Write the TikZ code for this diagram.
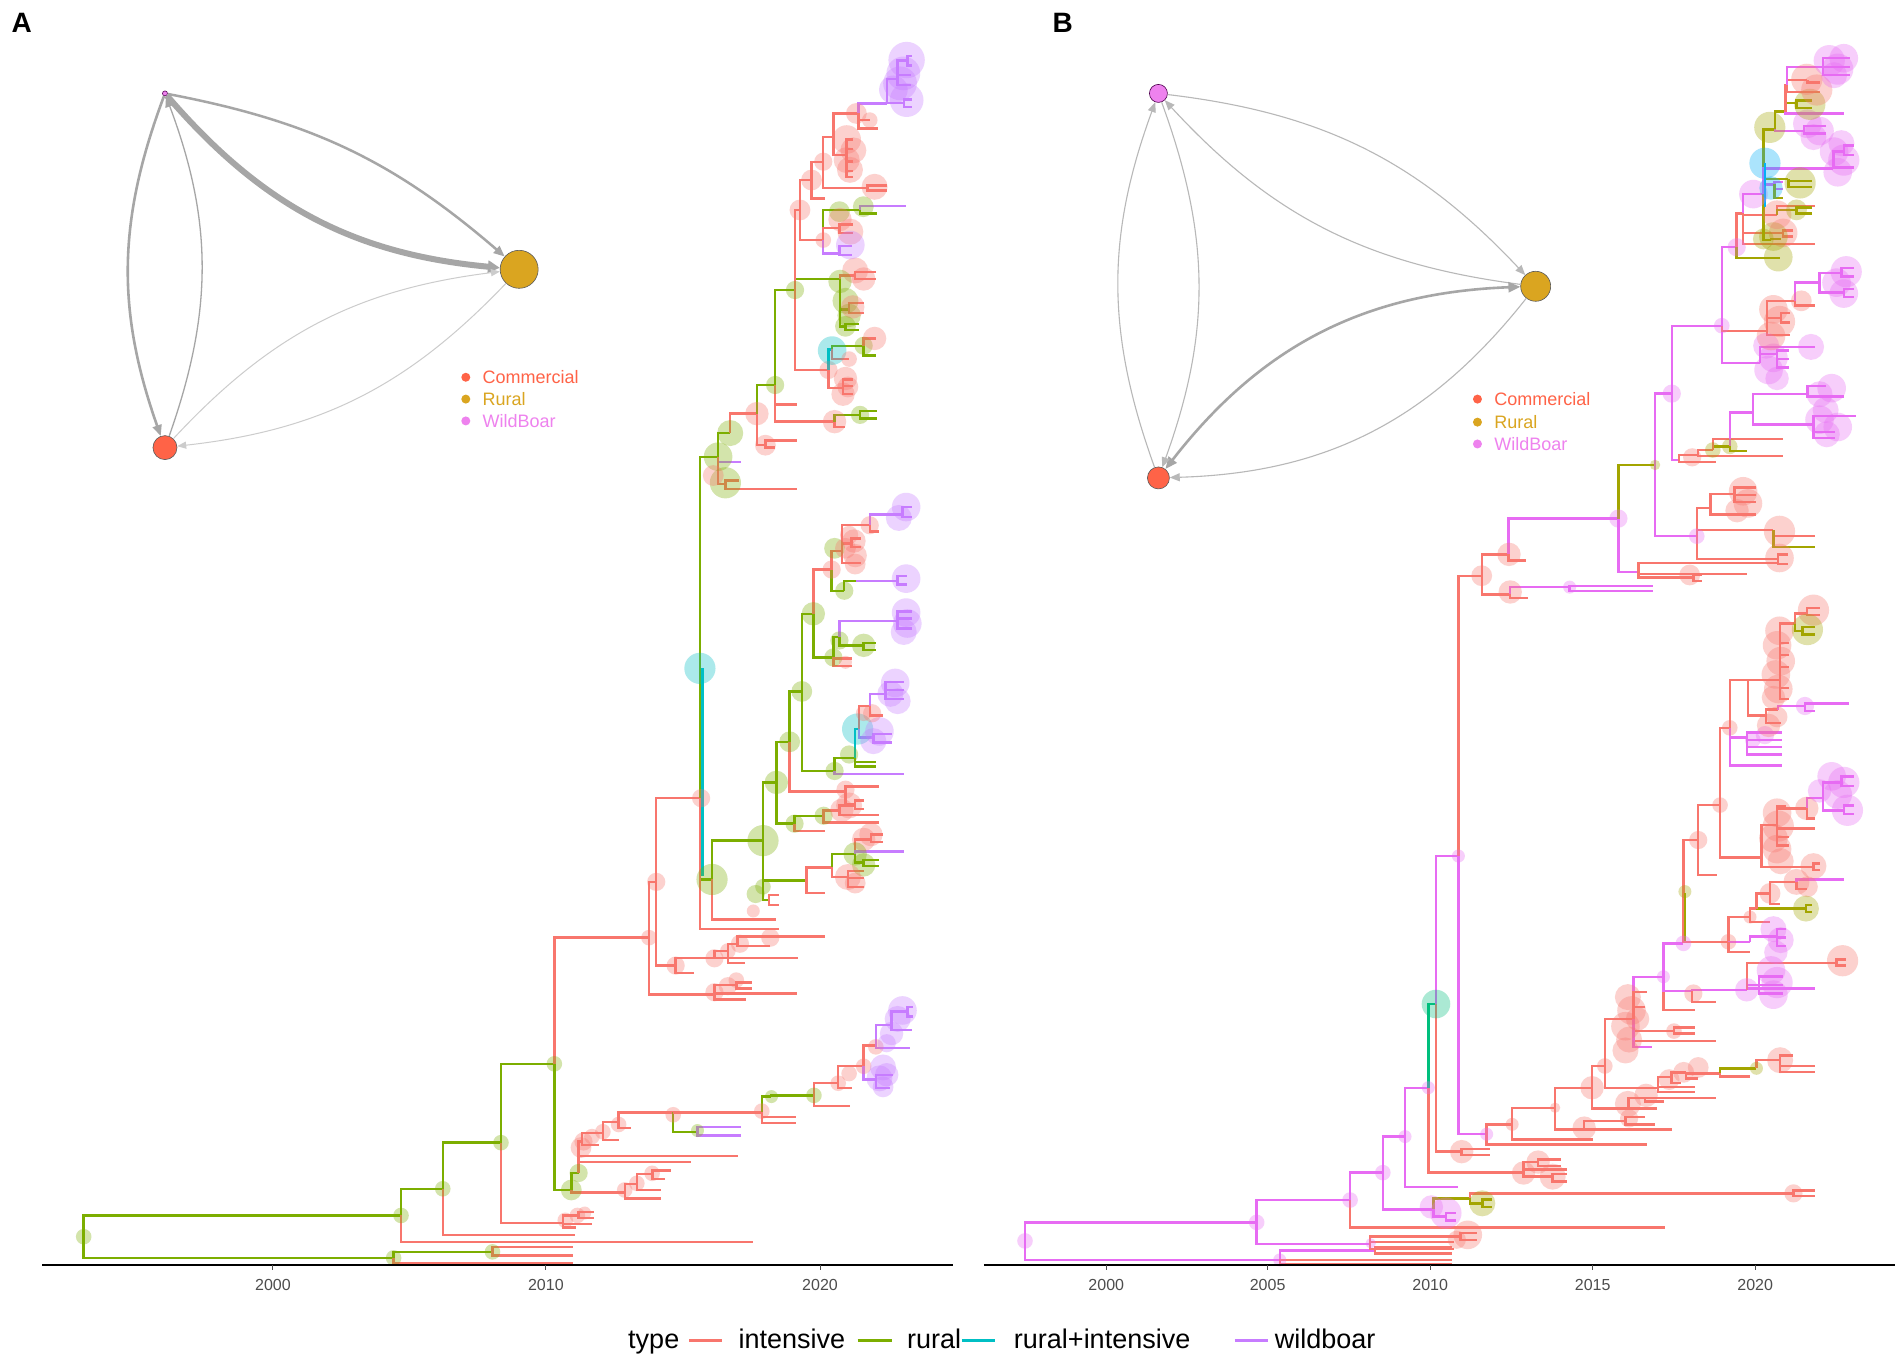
\documentclass[tikz,border=0pt]{standalone}
\usepackage{fontspec}
\setmainfont{Liberation Sans}
\usetikzlibrary{arrows.meta}
\definecolor{cI}{HTML}{F8766D}
\definecolor{cR}{HTML}{7CAE00}
\definecolor{cT}{HTML}{00BFC4}
\definecolor{cW}{HTML}{C77CFF}
\definecolor{Rb}{HTML}{A3A500}
\definecolor{Tb}{HTML}{00BF7D}
\definecolor{Cb}{HTML}{00B0F6}
\definecolor{Wb}{HTML}{E76BF3}
\definecolor{comc}{HTML}{FF6347}
\definecolor{rurc}{HTML}{DAA520}
\definecolor{wbc}{HTML}{EE82EE}
\definecolor{edgeg}{HTML}{A6A6A6}
\definecolor{edgel}{HTML}{CCCCCC}
\definecolor{edgem}{HTML}{B8B8B8}
\definecolor{axg}{HTML}{4D4D4D}
\begin{document}
\begin{tikzpicture}[x=1.213pt,y=-1.213pt,
  tl/.style={line width=2.4pt},
  netnode/.style={circle, draw=black!65, line width=0.6pt, inner sep=0pt},
  netE/.style={draw=edgeg, -{Triangle[length=11pt,width=9pt]}},
  netL/.style={draw=edgel, line width=1pt, -{Triangle[length=9pt,width=7pt]}},
  netM/.style={draw=edgem, line width=1.1pt, -{Triangle[length=10pt,width=8pt]}},
  legtxt/.style={anchor=west, font=\fontsize{18}{21}\selectfont},
  tick/.style={font=\fontsize{16}{19}\selectfont, text=axg},
  keytxt/.style={anchor=base west, font=\fontsize{27}{32}\selectfont, text=black},
  keyline/.style={line width=2.5pt}]
\useasboundingbox (0,0) rectangle (1568,1124);
\fill[white] (0,0) rectangle (1568,1124);

% ---------------- panel labels
\node[font=\bfseries\fontsize{28}{32}\selectfont] (labA) at (18,19) {A};
\node[font=\bfseries\fontsize{28}{32}\selectfont] (labB) at (876,19) {B};

% ---------------- network A
\node[netnode, fill=wbc, draw=violet!70!black, minimum size=5pt] (wbA) at (136,77) {};
\node[netnode, fill=rurc, minimum size=38pt] (ruA) at (428,222) {};
\node[netnode, fill=comc, minimum size=24pt] (coA) at (136,369) {};
\draw[netE, line width=2.5pt] (wbA) to[bend left=15] (ruA);
\draw[netE, line width=6pt, -{Triangle[length=12pt,width=12pt]}] (wbA) to[bend right=22] (ruA);
\draw[netE, line width=2.6pt] (wbA) to[bend right=20] (coA);
\draw[netE, line width=1.3pt] (coA) to[bend right=20] (wbA);
\draw[netL] (coA) to[bend left=20] (ruA);
\draw[netL] (ruA) to[bend left=20] (coA);
\fill[comc] (384,311) circle[radius=4.5pt];
\fill[rurc] (384,329) circle[radius=4.5pt];
\fill[wbc] (384,347) circle[radius=4.5pt];
\node[legtxt, text=comc] (lgA1) at (395,311) {Commercial};
\node[legtxt, text=rurc] (lgA2) at (395,329) {Rural};
\node[legtxt, text=wbc] (lgA3) at (395,347) {WildBoar};

% ---------------- network B
\node[netnode, fill=wbc, draw=violet!60!black, minimum size=18pt] (wbB) at (955,77) {};
\node[netnode, fill=rurc, minimum size=30pt] (ruB) at (1266,236) {};
\node[netnode, fill=comc, minimum size=22pt] (coB) at (955,394) {};
\draw[netM] (wbB) to[bend left=20] (ruB);
\draw[netM] (ruB) to[bend left=20] (wbB);
\draw[netE, line width=2.6pt, {Triangle[length=12pt,width=10pt]}-{Triangle[length=12pt,width=10pt]}] (coB) to[bend left=25] (ruB);
\draw[netM] (ruB) to[bend left=25] (coB);
\draw[netM] (coB) to[bend left=20] (wbB);
\draw[netM] (wbB) to[bend left=20] (coB);
\fill[comc] (1218,329) circle[radius=4.5pt];
\fill[rurc] (1218,348) circle[radius=4.5pt];
\fill[wbc] (1218,366) circle[radius=4.5pt];
\node[legtxt, text=comc] (lgB1) at (1229,329) {Commercial};
\node[legtxt, text=rurc] (lgB2) at (1229,348) {Rural};
\node[legtxt, text=wbc] (lgB3) at (1229,366) {WildBoar};

% ---------------- tree A : branches
\foreach \col/\a/\b/\p/\q in {
cR/69/1019.5/330.6/1002, cR/69/1019.5/324.5/1037, cR/324.5/1037/406/1032, cI/324.5/1037/472/1041,
cI/406/1032/472/1028, cI/406/1032/472/1035, cR/330.6/1002/365/980, cI/330.6/1002/621/1024,
cR/365/980/413/942, cI/365/980/474/1018, cR/413/942/457/877, cI/413/942/464/1008,
cI/464/1008/477/1002, cI/477/1002/490/999, cI/477/1002/490/1004, cI/464/1008/488/1009, cI/464/1008/475/1012,
cR/457/877/471/981, cI/457/877/535/773, cR/471/981/477/967, cI/471/981/515/983,
cI/515/983/545/988, cI/515/983/525/976, cI/525/976/545/981, cI/525/976/538/968, cI/538/968/553/965, cI/538/968/548/972,
cI/477/967/608/953, cI/477/967/570/958, cI/477/967/480/941, cI/480/941/494/944, cI/480/941/497/934,
cI/497/934/510/940, cI/497/934/510/925, cI/510/925/520/930, cI/510/925/555/917,
cR/555/917/575/933, cW/575/933/611/929, cW/575/933/611/936, cI/555/917/628/917,
cI/628/917/656/921, cI/628/917/656/926, cR/628/917/636/904, cR/636/904/671/903,
cI/671/903/701/912, cI/671/903/691/893, cI/691/893/702/897, cI/691/893/712/879, cI/712/879/722/862,
cW/722/862/735/845, cW/735/845/748/834, cW/748/834/753/830, cW/748/834/753/838, cW/735/845/752/849,
cW/722/862/750/864, cW/712/879/722/890, cW/722/890/736/886, cW/722/890/734/897,
cI/535/773/541/727, cI/535/773/589/820, cI/589/820/607/812, cI/607/812/620/810, cI/607/812/620/815,
cI/589/820/657/819, cI/589/820/615/824, cI/541/727/577/658, cI/541/727/557/796,
cI/557/796/572/802, cI/557/796/589/790, cI/589/790/658/790, cI/589/790/600/784, cI/600/784/614/794,
cI/600/784/608/778, cI/608/778/635/780, cI/608/778/680/772,
cR/577/658/592/376.5, cR/577/658/587/725, cI/577/658/642/766, cR/587/725/629/693, cI/587/725/640/758,
cR/629/693/640/645, cR/629/693/665/726, cR/629/693/634/742, cI/634/742/642/738, cI/634/742/642/746,
cI/665/726/686/715, cI/665/726/680/736, cR/686/715/705/704, cI/686/715/699/723,
cI/699/723/712/718, cI/699/723/712/724, cI/699/723/712/731, cI/705/704/718/692, cI/718/692/728/688, cI/718/692/728/694,
cW/705/704/745/702, cR/705/704/712/711, cR/712/711/725/709, cR/712/711/725/714,
cR/640/645/651/611.5, cR/640/645/655/679, cI/655/679/680/685, cR/655/679/679/672.5,
cI/679/672.5/692/668, cI/692/668/725/672, cI/692/668/705/664, cI/679/672.5/725/678,
cI/651/611.5/697/652.6, cI/697/652.6/725/648.4, cI/697/652.6/705/663, cI/705/663/712/660, cI/705/663/712/667,
cR/651/611.5/661/570, cR/661/570/670.5/506, cR/661/570/688/635.6, cW/688/635.6/745/638,
cR/688/635.6/705/625, cR/705/625/722/628, cR/705/625/722/632, cT/705/625/708/601,
cW/708/601/720/608, cW/720/608/735/605, cW/720/608/735/612, cI/708/601/717/582,
cW/717/582/730/572, cW/730/572/745/562, cW/730/572/745/569, cW/730/572/745/576, cI/717/582/728/590,
cI/670.5/506/685.6/469.5, cR/670.5/506/687/542, cR/687/542/692/525, cW/692/525/705/512, cW/705/512/740/512,
cW/740/512/752/504, cW/740/512/752/510, cW/740/512/752/518, cR/692/525/712/532, cR/712/532/722/530, cR/712/532/722/536,
cI/687/542/702/543, cI/687/542/702/549,
cR/685.6/469.5/696/487, cR/696/487/706/479, cW/706/479/740/479, cW/740/479/748/475, cW/740/479/748/482,
cI/685.6/469.5/694/454, cI/694/454/717/433, cI/694/454/702/448, cI/702/448/710/444, cI/702/448/710/451,
cI/694/454/710/464, cI/717/433/725/438, cW/717/433/744/424, cW/744/424/752/418, cW/744/424/752/426,
cW/592/376.5/611/381, cI/592/376.5/598/399, cI/598/399/657/403, cI/598/399/609/396,
cR/592/376.5/602/357, cI/602/357/624/341, cI/624/341/631/367, cI/631/367/657/363, cI/631/367/639/369,
cR/624/341/639/317.4, cI/639/317.4/657/333.4, cI/639/317.4/688/347.6, cR/688/347.6/709/342,
cR/709/342/722.7/339, cR/709/342/722.7/345, cI/688/347.6/697/352,
cR/639/317.4/655.4/239.1, cR/655.4/239.1/692.5/230, cI/692.5/230/705/227, cI/705/227/722/224, cI/705/227/722/230,
cR/692.5/230/700/255, cI/700/255/712/250, cI/700/255/712/258, cR/692.5/230/697/269, cR/697/269/708/267, cR/697/269/708/272,
cI/655.4/239.1/683/305, cT/683/305/686/288, cR/686/288/712/285, cI/712/285/722/279, cR/712/285/722/293,
cI/686/288/700/296, cI/683/305/695/320, cI/695/320/703/313, cI/695/320/703/318, cI/695/320/703/325,
cI/655.4/239.1/659.5/173.1, cI/659.5/173.1/669/148.4, cI/659.5/173.1/678.7/197.9,
cR/678.7/197.9/691/173, cR/691/173/709/173, cW/709/173/747/170, cR/709/173/723/176,
cI/678.7/197.9/692/188, cI/692/188/703/185, cI/692/188/703/192,
cW/678.7/197.9/692/209, cW/692/209/702/203, cW/692/209/702/210,
cI/669/148.4/680/163.5, cI/669/148.4/678.7/133.3, cI/678.7/133.3/715/155, cI/715/155/731/153, cI/715/155/731/157,
cI/678.7/133.3/687/112.7, cI/687/112.7/698/128, cI/698/128/703/115, cI/698/128/703/123, cI/698/128/703/133,
cI/698/128/703/141, cI/698/128/703/146, cI/687/112.7/707.6/93.5, cI/707.6/93.5/717/99, cI/707.6/93.5/724/105.8,
cW/707.6/93.5/731/85.2, cW/731/85.2/740/65, cW/740/65/748/50, cW/748/50/752/46, cW/748/50/752/54,
cW/740/65/751/62, cW/740/65/751/70, cW/731/85.2/745/85, cW/745/85/752/82, cW/745/85/752/88}
  \draw[tl, draw=\col] (\a,\b) |- (\p,\q);
\draw[tl, draw=cT] (579,551) -- (579,722);

% ---------------- tree A : node bubbles
\foreach \col/\x/\y/\r in {
cR/69/1019.5/6, cR/330.6/1002/6, cR/324.5/1037/6, cR/406/1032/6, cR/365/980/6, cR/413/942/6, cR/457/877/6,
cI/466/1006/6, cI/476/1002/6, cI/482/1000/5, cR/471/981/8, cR/477/967/7,
cI/515/981/6, cI/525/975.5/6, cI/537.6/967.3/6, cI/479/946/8, cI/481/941/7, cI/488/937/6, cI/497/933/6,
cI/510/927/6, cI/555/919/6, cR/575/932/5, cI/628/916/6, cR/636/904/5, cR/671/903/6, cI/691/893/6,
cI/700/885/6, cI/712/879/6, cI/722/863/6,
cW/744/833/11, cW/740/840/10, cW/735/852/9, cW/731/860/7, cW/728/880/10, cW/725/889/10, cW/731/886/9, cW/728/896/8,
cI/535/773/6, cI/541/727/7, cI/557/796/7, cI/589/790/7, cI/600/784/6, cI/610/778/7, cI/635/773/7,
cI/589/818/7, cI/600/813/7, cI/607/808/6,
cI/578/658/7, cT/577/551/12, cR/587/725/12, cR/629/693/12, cR/623/737/7, cR/629/731/6, cI/621/751/5,
cR/640/645/9, cR/651/611.5/8, cR/655/679/7, cR/679/672.5/7, cI/694/668/9, cI/700/664/10, cI/697/651/7,
cI/712/692/9, cI/718/688/9, cR/705/704/9, cR/712/713/9, cI/699/723/10, cI/705/728/8,
cR/661/570/8, cR/688/635.6/7, cT/707/601/12, cW/725/603/11, cW/720/611/10, cW/738/563/11, cW/734/572/10,
cW/740/578/10, cI/719/588/7, cR/700/622/7, cI/712/588/6,
cR/670.5/506/9, cR/687/542/7, cR/692/528/7, cR/712/532/9, cW/747/505/11, cW/748/514/11, cW/745/521/10, cI/697/546/5,
cI/685.6/469.5/7, cR/696/487/7, cW/747/477/11, cR/688/452/8, cI/697/452/8, cI/704/446/9, cI/705/458/9,
cI/705/465/8, cI/717/433/7, cW/747/418/11, cW/741/427/10, cI/700/441/7,
cR/592/376.5/11, cR/598/398/12, cI/588/392/8, cR/602/357/10, cI/624/341/9, cI/631/367/8,
cR/639/317.4/7, cI/688/347.6/9, cR/709/342/7,
cR/655.4/239.1/7, cI/705/223/10, cI/712/230/9, cR/697/248/10, cR/700/260/9, cI/703/253/9, cR/697/269/8, cR/692.5/232/9,
cI/683/305/7, cT/686/289/11, cR/712/285/7, cI/721/279/9, cI/697/312/9, cI/695/325/9, cI/699/319/8, cI/700/296/6,
cI/659.5/173.1/8, cI/669/148.4/8, cI/678.7/197.9/6, cR/692/174.5/8, cR/711.7/170.4/8, cI/692.5/181/9,
cI/701/191/10, cW/701/202/11,
cI/678.7/133.3/7, cI/721/154/10, cI/698/115/11, cI/703.5/124/10, cI/698/132/10, cI/700.7/140/10,
cI/706/93.5/8, cI/717/99/6, cW/747.4/49.5/14, cW/744.7/60.5/13, cW/742/68.7/13, cW/747.4/82.5/13, cW/736.5/74/11}
  \fill[fill=\col, fill opacity=0.33] (\x,\y) circle[radius=\r*1.3pt];

% ---------------- tree B : branches
\foreach \col/\a/\b/\p/\q in {
Wb/845/1023/1036/1007.7, Wb/845/1023/1055/1038.7, Wb/1055/1038.7/1133.5/1031, cI/1055/1038.7/1197/1038.5,
cI/1055/1038.7/1197/1042.5, cI/1133.5/1031/1197/1028, cI/1133.5/1031/1197/1033.5,
Wb/1036/1007.7/1113/989.3, Wb/1036/1007.7/1129.4/1025.5, cI/1129.4/1025.5/1199/1024, cI/1129.4/1025.5/1199/1029.5,
cI/1129.4/1025.5/1204/1019.5, cI/1204/1019.5/1218/1016.5, cI/1204/1019.5/1218/1022,
Wb/1113/989.3/1140/966.7, cI/1113/989.3/1372.7/1011.8, Wb/1140/966.7/1158.3/937, Wb/1140/966.7/1181.7/997,
Rb/1181.7/997/1212/988, Wb/1181.7/997/1192/1003, Wb/1192/1003/1200/1000, Wb/1192/1003/1200/1006,
cI/1212/988/1478.5/983.8, cI/1478.5/983.8/1496/981.5, cI/1478.5/983.8/1496/986,
Rb/1212/988/1222/992, Rb/1222/992/1230/989, Rb/1222/992/1230/995,
Wb/1158.3/937/1177.5/896.7, Wb/1158.3/937/1202/978.3, Tb/1177.5/896.7/1183.8/827.7, cI/1177.5/896.7/1256/966.7,
cI/1256/966.7/1268/958, cI/1268/958/1287/956, cI/1268/958/1287/961, cI/1256/966.7/1292/964,
cI/1256/966.7/1280/970, cI/1280/970/1292/968, cI/1280/970/1292/974,
Wb/1183.8/827.7/1202.3/705.7, cI/1183.8/827.7/1205/949.4, cI/1205/949.4/1228/947, cI/1205/949.4/1228/952,
cI/1202.3/705.7/1221.5/474.6, Wb/1202.3/705.7/1225.6/935,
cI/1225.6/935/1246.6/926.9, cI/1225.6/935/1357.5/943.4, cI/1246.6/926.9/1282/913.2, cI/1246.6/926.9/1313.6/939.3,
cI/1282/913.2/1312.5/896.7, cI/1282/913.2/1306/931, cI/1306/931/1378/931, cI/1306/931/1340/924,
cI/1340/924/1364/927, cI/1340/924/1356/921,
cI/1312.5/896.7/1323/878.8, cI/1312.5/896.7/1342.4/913.7, cI/1342.4/913.7/1366/913.7, cI/1342.4/913.7/1356/905,
cI/1356/905/1415/905, cI/1356/905/1372/908,
cI/1323/878.8/1346.6/840, cI/1323/878.8/1367/896.7, cI/1367/896.7/1397/896, cI/1367/896.7/1397/900,
cI/1367/896.7/1378/888, cI/1378/888/1390/884, cI/1378/888/1386/893, cI/1390/884/1418/884.9, cI/1390/884/1400/889,
Rb/1418/884.9/1448/880.7, cI/1418/884.9/1442.7/887.6, cI/1448/880.7/1467.5/874,
cI/1467.5/874/1496/879, cI/1467.5/874/1496/883.5, cI/1467.5/874/1478/870,
Wb/1346.6/840/1371.3/805.2, cI/1346.6/840/1380/850, cI/1380/850/1397/847, cI/1380/850/1397/852,
cI/1346.6/840/1415/858, Wb/1346.6/840/1362/863, cI/1346.6/840/1356/830, cI/1346.6/840/1358/818,
Wb/1371.3/805.2/1387.8/777.7, cI/1371.3/805.2/1397.4/832.7, Wb/1371.3/805.2/1395/817,
Wb/1395/817/1440/816, cI/1395/817/1415/826, Wb/1440/816/1450/812, Wb/1450/812/1470/805, Wb/1450/812/1470/812,
Wb/1450/812/1470/819, Wb/1440/816/1496/815, cI/1440/816/1465/794, cI/1465/794/1514/794,
cI/1514/794/1522/791, cI/1514/794/1522/796,
cI/1387.8/777.7/1400/692.5, cI/1387.8/777.7/1424.9/776.4, cI/1424.9/776.4/1442.7/756, Wb/1424.9/776.4/1442.7/776.4,
cI/1424.9/776.4/1442.7/784.6, Wb/1442.7/776.4/1464.7/772, Wb/1464.7/772/1472/766, Wb/1464.7/772/1472/773,
Wb/1464.7/772/1472/780, cI/1442.7/756/1448/749, cI/1442.7/756/1459/760, Rb/1448/749/1488.8/749,
Rb/1488.8/749/1494/746, Rb/1488.8/749/1494/752, cI/1448/749/1459.2/736.5, cI/1459.2/736.5/1481/727,
cI/1459.2/736.5/1467/745, cI/1481/727/1503/725.5, Wb/1481/727/1520/725, cI/1481/727/1490/733,
cI/1400/692.5/1418/663.7, cI/1400/692.5/1415.3/721.4, cI/1418/663.7/1426/600, cI/1418/663.7/1452.3/707,
cI/1426/600/1440.8/560.6, Wb/1426/600/1440/608, Wb/1440/608/1469/604, Wb/1440/608/1469/610,
Wb/1440/608/1469/616, Wb/1440/608/1469/622, Wb/1426/600/1469/631,
cI/1440.8/560.6/1467.5/560.6, cI/1440.8/560.6/1456/590, cI/1456/590/1466/585, Wb/1466/585/1488/582,
Wb/1488/582/1524/580, Wb/1488/582/1496/586, cI/1456/590/1468/596,
cI/1467.5/560.6/1480/514, cI/1467.5/560.6/1475/530, cI/1467.5/560.6/1475/540, cI/1467.5/560.6/1475/550,
cI/1467.5/560.6/1475/567, cI/1467.5/560.6/1475/576, cI/1480/514/1489.5/505.7, cI/1489.5/505.7/1500/501,
cI/1489.5/505.7/1500/507, Rb/1480/514/1486/520, Rb/1486/520/1496/517, Rb/1486/520/1496/523,
cI/1452.3/707/1465/680, cI/1465/680/1489.5/666.4, cI/1465/680/1496/683, cI/1465/680/1475/690,
cI/1465/680/1475/697, cI/1465/680/1472/665, cI/1489.5/666.4/1496/674.7, Wb/1489.5/666.4/1503/658,
Wb/1503/658/1518/645, Wb/1518/645/1528/640, Wb/1518/645/1528/648, Wb/1503/658/1520/668,
Wb/1520/668/1528/664, Wb/1520/668/1528/671, cI/1452.3/707/1495/714.5, cI/1495/714.5/1500/712, cI/1495/714.5/1500/717,
cI/1221.5/474.6/1243.5/457, cI/1221.5/474.6/1245/490, Wb/1243.5/457/1334.2/427.5, cI/1243.5/457/1258/462,
Wb/1245/490/1294/484, cI/1245/490/1260/493, Wb/1294/484/1363/483, Wb/1294/484/1363/487,
Rb/1334.2/427.5/1364.4/383.3, Wb/1334.2/427.5/1350.7/471.6, cI/1350.7/471.6/1466/464, cI/1350.7/471.6/1440/473,
cI/1350.7/471.6/1396/476, cI/1396/476/1403/474, cI/1396/476/1403/479,
Wb/1364.4/383.3/1378.2/324.5, Wb/1364.4/383.3/1398.8/442, cI/1398.8/442/1410/419, cI/1410/419/1430/407,
cI/1430/407/1448/402, cI/1430/407/1448/408, cI/1430/407/1448/414, cI/1410/419/1448/424,
cI/1398.8/442/1462/437, cI/1462/437/1496/442, Rb/1462/437/1496/451, cI/1398.8/442/1466/461,
cI/1466/461/1474/457, cI/1466/461/1474/465,
Wb/1378.2/324.5/1419.4/268.5, Wb/1378.2/324.5/1384/379, cI/1384/379/1400/375, cI/1384/379/1415/381,
cI/1400/375/1412/371, cI/1400/375/1470/376, Rb/1412/371/1426/368, cI/1412/371/1470/362,
Wb/1426/368/1445/340, Rb/1426/368/1440/372, Wb/1445/340/1490/325, Wb/1445/340/1495/350,
Wb/1490/325/1520/327, Wb/1490/325/1505/318, Wb/1495/350/1530/343, Wb/1495/350/1513/356, Wb/1495/350/1513/361,
Wb/1419.4/268.5/1431.7/203.8, Wb/1419.4/268.5/1451/299.4, cI/1419.4/268.5/1456.5/273,
Wb/1451/299.4/1465/292, Wb/1465/292/1475/289, Wb/1465/292/1475/296, Wb/1465/292/1475/303, Wb/1451/299.4/1496/286,
cI/1456.5/273/1468/262, cI/1468/262/1476/258, cI/1468/262/1476/266, cI/1456.5/273/1476/276,
cI/1456.5/273/1480/248, cI/1480/248/1496/252, Wb/1480/248/1500/233, Wb/1500/233/1518/225,
Wb/1518/225/1528/221, Wb/1518/225/1528/228, Wb/1500/233/1520/241, Wb/1520/241/1528/238, Wb/1520/241/1528/245,
Rb/1431.7/203.8/1467.5/212.6, cI/1431.7/203.8/1437/176, cI/1437/176/1496/201, cI/1437/176/1465/177,
cI/1465/177/1496/170, Rb/1465/177/1481/173, Rb/1481/173/1494/171, Rb/1481/173/1494/176,
cI/1437/176/1470/192, cI/1470/192/1478/190, cI/1470/192/1478/195, Wb/1437/176/1453.7/160,
Rb/1453.7/160/1463.4/106.6, Rb/1453.7/160/1460/197.9, Rb/1460/197.9/1468/197,
Wb/1453.7/160/1463/152, Wb/1463/152/1470/150, Wb/1463/152/1470/156, Rb/1463/152/1470/163,
Rb/1453.7/160/1474.4/147.8, Rb/1474.4/147.8/1494/149, Rb/1474.4/147.8/1494/154,
Wb/1453.7/160/1474/139, Wb/1474/139/1511.5/139, Wb/1511.5/139/1520/125, Wb/1520/125/1528/120,
Wb/1520/125/1528/128, Wb/1511.5/139/1528/138,
Rb/1463.4/106.6/1472/92, Wb/1463.4/106.6/1487/108, Wb/1487/108/1505/104, Wb/1487/108/1505/110,
Rb/1472/92/1481/85, Rb/1481/85/1494/83, Rb/1481/85/1494/89, Wb/1472/92/1520/93.4,
cI/1472/92/1473/70, cI/1473/70/1490/66, cI/1490/66/1500/68, cI/1473/70/1500/76,
Wb/1473/70/1503/55, Wb/1503/55/1525/48, Wb/1503/55/1525/55, Wb/1503/55/1525/62}
  \draw[tl, draw=\col] (\a,\b) |- (\p,\q);
\draw[tl, draw=Rb] (1389,736) -- (1389,776);
\draw[tl, draw=Cb] (1455,134) -- (1455,171);

% ---------------- tree B : node bubbles
\foreach \col/\x/\y/\r in {
Wb/845/1023/6, Wb/1036/1007.7/6, Wb/1055/1038.7/5, Wb/1113/989.3/6, Wb/1140/966.7/6, Wb/1158.3/937/5,
Wb/1177.5/896.7/5, Wb/1130/1025/4, cI/1210/1018/11, cI/1201/1022/7,
Wb/1180/995/9, Wb/1192/1000/12, Rb/1222/992/10, cI/1478.5/983.8/7,
cI/1256/967/9, cI/1268/958/9, cI/1280/970/10,
Tb/1183.8/827.7/11, cI/1205/949.4/9, Wb/1202.3/705.7/5, Wb/1225.6/935/5, cI/1246.6/926.9/5, cI/1282/913.2/4,
cI/1306/930/9, cI/1343/922/7, cI/1312.5/896.7/9, cI/1342/910/10, cI/1357/903/9, cI/1323/878.8/6,
cI/1376/890/8, cI/1388/884/8, cI/1400/880/8, Rb/1448/880.7/5, cI/1467.5/874/10,
cI/1342/822/10, cI/1345/833/11, cI/1340/846/11, cI/1343/857/10, cI/1340/866/10, cI/1350/840/9, cI/1380/850/6,
Wb/1371.3/805.2/5, Wb/1387.8/777.7/6, Rb/1389/735/5, cI/1396/819/7, Wb/1440/816/9, Wb/1460/800/11,
Wb/1465/810/12, Wb/1462/820/11, cI/1519/792/12,
cI/1424.9/776.4/6, Wb/1462/766/10, Wb/1468/775/10, Wb/1464/785/9, cI/1442.7/756/5, cI/1459.2/736.5/8,
cI/1481/727/10, cI/1490/731/8, Rb/1488.8/749/10,
cI/1400/692.5/7, cI/1418/663.7/6, cI/1426/600/6, Wb/1445/610/6, Wb/1455/606/7, cI/1458/598/9, cI/1465/591/8, Wb/1488/582/7,
cI/1467/520/11, cI/1465/532/11, cI/1468/545/11, cI/1464/556/11, cI/1466/568/11, cI/1462/575/9, cI/1495/503/12, Rb/1490/519/12,
cI/1465/670/11, cI/1466/681/12, cI/1462/691/11, cI/1465/700/11, cI/1468/710/10, cI/1489.5/666.4/9,
Wb/1510/640/11, Wb/1520/645/12, Wb/1515/655/11, Wb/1523/668/12, Wb/1500/652/9, cI/1495/714/10,
cI/1221.5/474.6/8, cI/1244/457/9, cI/1245/488/9, Wb/1294/484/5, Wb/1334.2/427.5/7, Rb/1364.4/383.3/4,
cI/1393/474/8, Wb/1378.2/324.5/7, Wb/1398.8/442/6,
cI/1437/405/11, cI/1441/415/11, cI/1432/421/9, cI/1467/438/12, cI/1467/460/11,
cI/1395/377/7, Rb/1412/371/6, Rb/1426/368/6, Wb/1500/325/10, Wb/1510/320/11, Wb/1505/338/10, Wb/1500/346/11,
Wb/1515/352/11, Wb/1506/358/10,
Wb/1419.4/268.5/6, Wb/1456/285/10, Wb/1462/295/11, Wb/1458/305/11, Wb/1465/312/9, Wb/1493/286/10,
cI/1462/255/11, cI/1467/265/12, cI/1460/277/11, cI/1485/248/8, Wb/1522/224/12, Wb/1514/233/11, Wb/1520/242/11,
Wb/1431.7/203.8/7, Rb/1466/212/11, cI/1470/192/11, Rb/1462/195/11, cI/1465/177/11, Rb/1481/173/8,
Wb/1445.5/160/11, Cb/1455/134.6/12, Cb/1460/155/9, Rb/1484/150.8/12, Wb/1512/125/11, Wb/1520/132/12,
Wb/1515/142/11, Wb/1518/118/10, Rb/1459/105/12, Wb/1490/102/11, Wb/1500/108/11, Wb/1495/113/10,
Rb/1492/86/12, cI/1489.5/65.4/12, cI/1497.7/74.2/12, Wb/1508/50/12, Wb/1515/57/12, Wb/1520/48/11,
Wb/1512/62/10, Rb/1453.7/197/8}
  \fill[fill=\col, fill opacity=0.33] (\x,\y) circle[radius=\r*1.3pt];

% ---------------- axes
\draw[line width=1.5pt] (35,1043) -- (786,1043);
\foreach \x/\t in {225/2000, 450/2010, 676/2020} {
  \draw[line width=1pt, axg] (\x,1043) -- (\x,1047);
  \node[tick] at (\x,1059) {\t};
}
\draw[line width=1.5pt] (811,1043) -- (1562,1043);
\foreach \x/\t in {912/2000, 1045/2005, 1179/2010, 1313/2015, 1447/2020} {
  \draw[line width=1pt, axg] (\x,1043) -- (\x,1047);
  \node[tick] at (\x,1059) {\t};
}

% ---------------- bottom legend
\node[keytxt] (ktype) at (515,1112) {type};
\draw[keyline, cI] (568,1105) -- (595,1105);
\node[keytxt] (kint) at (606,1112) {intensive};
\draw[keyline, cR] (707,1105) -- (735,1105);
\node[keytxt] (krur) at (745,1112) {rural};
\draw[keyline, cT] (793,1105) -- (820,1105);
\node[keytxt] (kri) at (833,1112) {rural+intensive};
\draw[keyline, cW] (1018,1105) -- (1045,1105);
\node[keytxt] (kwb) at (1048,1112) {wildboar};
\end{tikzpicture}
\end{document}
